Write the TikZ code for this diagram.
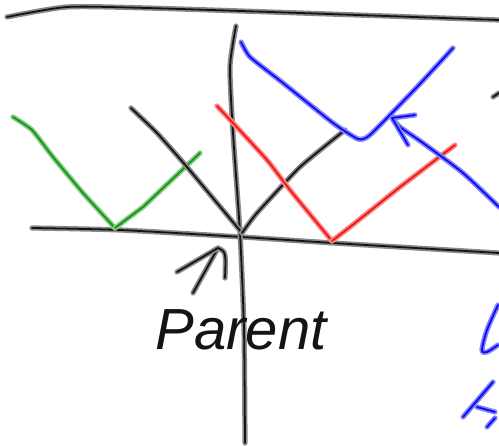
\documentclass[tikz,border=0pt]{standalone}
\usepackage{fontspec}
\setmainfont{Liberation Sans}
\usetikzlibrary{positioning, arrows.meta, calc}
\definecolor{inkblack}{RGB}{20,20,20}
\definecolor{inkblue}{RGB}{10,10,245}
\definecolor{inkred}{RGB}{245,20,20}
\definecolor{inkgreen}{RGB}{20,150,20}
\tikzset{
    pen/.style={draw=#1, line width=1.8pt, line cap=round, line join=round,
        preaction={draw=#1!50, line width=5.2pt, line cap=round, line join=round}},
    pen/.default=inkblack,
    axis/.style={pen=inkblack},
    lbl/.style={font=\fontsize{58}{58}\selectfont\itshape, text=inkblack, inner sep=0pt}
}
\begin{document}
\begin{tikzpicture}[x=1pt, y=-1pt]
    \useasboundingbox (0,0) rectangle (499,446);
    % axes
    \draw[axis] plot[smooth, tension=0.4] coordinates {(7,17) (67,7) (147,8) (300,13) (499,20)};
    \draw[axis] plot[smooth, tension=0.4] coordinates {(32,228) (120,230) (242,237) (333,243) (499,253)};
    \draw[axis] plot[smooth, tension=0.4] coordinates {(236,26) (230,67) (233,133) (240,233) (244,330) (245,443)};
    % green child
    \draw[pen=inkgreen] plot[smooth, tension=0.3] coordinates {(13,117) (32,130) (53,157) (83,193) (115,228)};
    \draw[pen=inkgreen] (115,228) -- (143,207) -- (200,153);
    % black parent
    \draw[pen] plot[smooth, tension=0.3] coordinates {(131,108) (157,133) (187,167) (242,233)};
    \draw[pen] plot[smooth, tension=0.3] coordinates {(242,233) (257,213) (300,167) (345,130)};
    % red child
    \draw[pen=inkred] plot[smooth, tension=0.3] coordinates {(217,106) (233,123) (267,160) (290,190) (332,241)};
    \draw[pen=inkred] (332,241) -- (350,227) -- (400,187) -- (455,145);
    % blue child
    \draw[pen=inkblue] plot[smooth, tension=0.3] coordinates {(241,42) (250,57) (283,83) (333,123) (358,139) (370,135) (417,87) (453,48)};
    % blue arrow
    \coordinate (btip) at (392,118);
    \draw[pen=inkblue] plot[smooth, tension=0.4] coordinates {(499,207) (463,173) (423,143) (400,127) (btip)};
    \draw[pen=inkblue] (415,115) -- (btip) -- (408,145);
    % parent arrow
    \coordinate (ptip) at (218,248);
    \draw[pen] (193,293) -- (ptip);
    \draw[pen] (177,272) -- (ptip) .. controls (226,252) .. (225,278);
    \node[lbl] (parent) at (241,330) {Parent};
    % cut-off scribbles at the edge
    \draw[pen] (493,97) -- (499,93);
    \draw[pen=inkblue] plot[smooth, tension=0.5] coordinates {(498,305) (487,330) (482,350) (487,352) (498,345)};
    \draw[pen=inkblue] (493,382) -- (463,417);
    \draw[pen=inkblue] (477,407) -- (495,412);
    \draw[pen=inkblue] (495,418) -- (487,427);
\end{tikzpicture}
\end{document}
